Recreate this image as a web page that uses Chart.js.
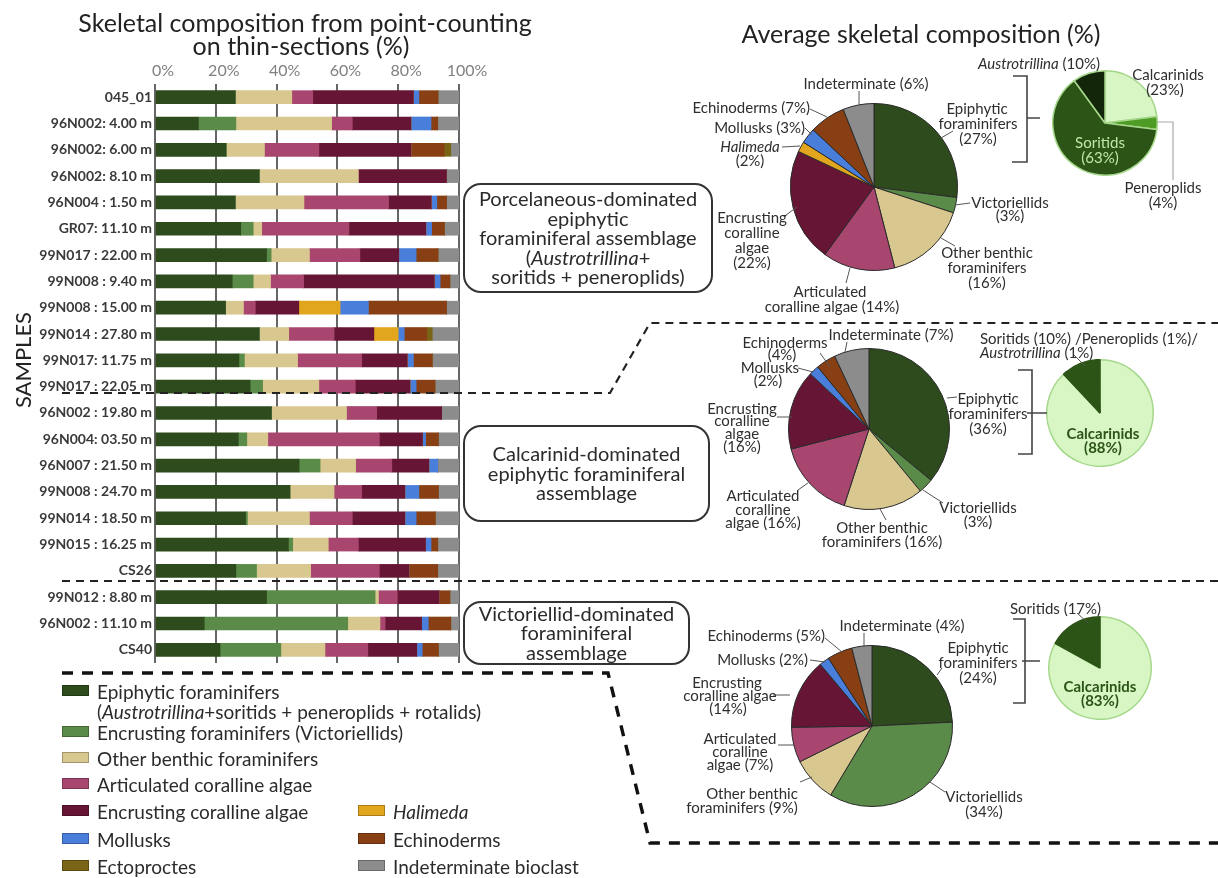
<!DOCTYPE html>
<html lang="en">
<head>
<meta charset="UTF-8">
<title>Skeletal composition</title>
<script src="https://cdn.jsdelivr.net/npm/chart.js"></script>
<style>
  body { margin: 0; background: #fff; font-family: Lato, sans-serif; color: #2b2b2b; }
  #stage { position: relative; width: 1218px; height: 878px; overflow: hidden; background: #fff; }
  #stage canvas { position: absolute; }
  .lbl { position: absolute; white-space: nowrap; font-size: 15px; line-height: 1; color: #2e2e2e; }
  .box { position: absolute; border: 2px solid #333; border-radius: 18px; box-sizing: border-box;
         display: flex; flex-direction: column; justify-content: center; align-items: center;
         text-align: center; font-size: 20px; line-height: 19.5px; color: #2b2b2b; }
  .sw { position: absolute; width: 27px; height: 11px; box-sizing: border-box; border: 1px solid rgba(0,0,0,0.25); }
  svg { position: absolute; left: 0; top: 0; }
</style>
</head>
<body>
<div id="stage">
  <canvas id="bars" width="500" height="680" style="left:0;top:0"></canvas>
  <canvas id="pie1" width="168" height="168" style="left:790px;top:103px"></canvas>
  <canvas id="pie2" width="162" height="162" style="left:788px;top:348px"></canvas>
  <canvas id="pie3" width="162" height="162" style="left:791px;top:645px"></canvas>
  <canvas id="epi1" width="106" height="106" style="left:1052px;top:70px"></canvas>
  <canvas id="epi2" width="108" height="108" style="left:1046px;top:359px"></canvas>
  <canvas id="epi3" width="104" height="104" style="left:1048px;top:616px"></canvas>
  <svg id="lines" width="1218" height="878"></svg>
</div>

<script>
  // samples, top to bottom
  const samples = ['045_01', '96N002: 4.00 m', '96N002: 6.00 m', '96N002: 8.10 m', '96N004 : 1.50 m',
    'GR07: 11.10 m', '99N017 : 22.00 m', '99N008 : 9.40 m', '99N008 : 15.00 m', '99N014 : 27.80 m',
    '99N017: 11.75 m', '99N017 : 22.05 m', '96N002 : 19.80 m', '96N004: 03.50 m', '96N007 : 21.50 m',
    '99N008 : 24.70 m', '99N014 : 18.50 m', '99N015 : 16.25 m', 'CS26', '99N012 : 8.80 m',
    '96N002 : 11.10 m', 'CS40'];

  const categories = ['Epiphytic foraminifers', 'Encrusting foraminifers (Victoriellids)', 'Other benthic foraminifers',
    'Articulated coralline algae', 'Encrusting coralline algae', 'Halimeda', 'Mollusks', 'Echinoderms',
    'Ectoproctes', 'Indeterminate bioclast'];
  const colors = ['#2d4b1c', '#5a8b48', '#d8c78f', '#a8466f', '#661634', '#e2a61e', '#4a7edb', '#883f13', '#7a6416', '#8c8c8c'];

  // point-counting percentages per sample
  const epiphytic = [26.4, 14.3, 23.4, 34.3, 26.4, 28.2, 36.7, 25.4, 23.2, 34.3, 27.6, 31.3, 38.3, 27.4, 47.4, 44.4, 29.8, 43.9, 26.6, 36.7, 16.2, 21.4];
  const encrustingForam = [0, 12.3, 0, 0, 0, 4.1, 1.5, 6.9, 0, 0, 1.8, 4.1, 0, 2.8, 6.9, 0, 0.6, 1.4, 6.8, 35.7, 47.2, 20.0];
  const otherBenthic = [18.6, 31.5, 12.6, 32.6, 22.6, 2.8, 12.6, 5.7, 5.9, 9.7, 17.5, 18.5, 24.7, 6.9, 11.7, 14.5, 20.4, 11.7, 17.8, 1.1, 10.6, 14.5];
  const articulated = [6.9, 6.8, 17.9, 0, 27.8, 28.7, 16.6, 10.9, 3.9, 14.9, 21.1, 12.0, 9.9, 36.7, 11.9, 9.1, 14.1, 9.9, 22.6, 6.2, 1.7, 14.1];
  const encrustingCoralline = [33.1, 19.3, 30.3, 29.0, 14.1, 25.3, 12.8, 43.0, 14.3, 13.1, 15.0, 18.0, 21.4, 14.2, 12.2, 14.2, 17.3, 22.1, 9.8, 13.8, 12.0, 16.1];
  const halimeda = [0, 0, 0, 0, 0, 0, 0, 0, 13.6, 8.0, 0, 0, 0, 0, 0, 0, 0, 0, 0, 0, 0, 0];
  const mollusks = [1.8, 6.6, 0, 0, 1.8, 1.9, 5.7, 1.9, 9.3, 2.0, 2.0, 2.0, 0, 1.0, 2.9, 4.6, 3.7, 1.8, 0, 0, 2.2, 1.8];
  const echinoderms = [6.3, 2.2, 10.9, 0, 3.2, 4.2, 7.2, 3.2, 25.7, 7.4, 6.2, 6.2, 0, 4.2, 0, 6.4, 6.3, 2.2, 9.4, 3.5, 7.4, 5.3];
  const ectoproctes = [0, 0, 2.2, 0, 0, 0, 0, 0, 0, 1.8, 0, 0, 0, 0, 0, 0, 0, 0, 0, 0, 0, 0];
  const indeterminate = [6.9, 7.0, 2.7, 4.1, 4.1, 4.8, 6.9, 3.0, 4.1, 8.8, 8.8, 7.9, 5.7, 6.8, 7.0, 6.8, 7.8, 7.0, 7.0, 3.0, 2.7, 6.8];
  const xTicks = [0, 20, 40, 60, 80, 100];

  // average composition per assemblage (clockwise from 12 o'clock)
  const pieCats = ['Epiphytic foraminifers', 'Victoriellids', 'Other benthic foraminifers', 'Articulated coralline algae',
    'Encrusting coralline algae', 'Halimeda', 'Mollusks', 'Echinoderms', 'Indeterminate'];
  const pieColors = ['#2d4b1c', '#5a8b48', '#d8c78f', '#a8466f', '#661634', '#e2a61e', '#4a7edb', '#883f13', '#8c8c8c'];
  const porcelaneousAvg = [27, 3, 16, 14, 22, 2, 3, 7, 6];
  const calcarinidAvg = [36, 3, 16, 16, 16, 0, 2, 4, 7];
  const victoriellidAvg = [24, 34, 9, 7, 14, 0, 2, 5, 4];

  // split of the epiphytic foraminifers
  const epiCats = ['Calcarinids', 'Peneroplids', 'Soritids', 'Austrotrillina'];
  const porcelaneousEpi = [23, 4, 63, 10];
  const calcarinidEpi = [88, 1, 10, 1];
  const victoriellidEpi = [83, 0, 17, 0];

  Chart.defaults.font.family = 'Lato';
  Chart.defaults.animation = false;

  const barSeries = [epiphytic, encrustingForam, otherBenthic, articulated, encrustingCoralline,
    halimeda, mollusks, echinoderms, ectoproctes, indeterminate];

  new Chart(document.getElementById('bars'), {
    type: 'bar',
    data: {
      labels: samples,
      datasets: barSeries.map((d, i) => ({
        label: categories[i], data: d, backgroundColor: colors[i], borderWidth: 0,
        barThickness: 13
      }))
    },
    options: {
      responsive: false,
      indexAxis: 'y',
      layout: { padding: { left: 0, right: 41, top: 0, bottom: 17 } },
      plugins: { legend: { display: false }, tooltip: { enabled: false } },
      scales: {
        x: {
          position: 'top', stacked: true, min: 0, max: 100,
          afterBuildTicks: s => { s.ticks = xTicks.map(v => ({ value: v })); },
          afterFit: s => { s.height = 84; s.paddingLeft = 0; s.paddingRight = 0; },
          grid: { color: '#666', lineWidth: 2, drawTicks: false },
          border: { display: false },
          ticks: { callback: v => v + '%', color: '#808080', font: { size: 16 }, padding: 4, labelOffset: 8 }
        },
        y: {
          stacked: true,
          afterFit: s => { s.width = 155; s.paddingTop = 0; s.paddingBottom = 0; },
          grid: { display: false, drawTicks: false },
          border: { display: false },
          ticks: { color: '#3a3a3a', font: { size: 14, weight: 'bold' }, padding: 3 }
        }
      }
    }
  });

  function pie(id, values, cols, border, bw) {
    new Chart(document.getElementById(id), {
      type: 'pie',
      data: { labels: values.map((_, i) => i), datasets: [{ data: values, backgroundColor: cols, borderColor: border, borderWidth: bw }] },
      options: { responsive: false, layout: { padding: 0 }, plugins: { legend: { display: false }, tooltip: { enabled: false } } }
    });
  }
  pie('pie1', porcelaneousAvg, pieColors, '#2a2a2a', 1);
  pie('pie2', calcarinidAvg, pieColors, '#2a2a2a', 1);
  pie('pie3', victoriellidAvg, pieColors, '#2a2a2a', 1);
  const epiColors = ['#d7f6c4', '#4e9c25', '#2c5417', '#14260a'];
  const darkEpi = ['#d7f6c4', '#2c5417', '#2c5417', '#2c5417'];
  pie('epi1', porcelaneousEpi, epiColors, '#a6d88c', 1.5);
  pie('epi2', calcarinidEpi, darkEpi, ['#a6d88c', '#2c5417', '#2c5417', '#2c5417'], 1.5);
  pie('epi3', victoriellidEpi, darkEpi, ['#a6d88c', '#2c5417', '#2c5417', '#2c5417'], 1.5);

  // ---- annotations ----
  const stage = document.getElementById('stage');
  function txt(html, x, y, align, extra) {
    const d = document.createElement('div');
    d.className = 'lbl';
    d.innerHTML = html;
    d.style.left = x + 'px';
    d.style.top = y + 'px';
    const a = align || 'center';
    d.style.transform = a === 'center' ? 'translate(-50%,-50%)' : a === 'right' ? 'translate(-100%,-50%)' : 'translate(0,-50%)';
    if (extra) Object.assign(d.style, extra);
    stage.appendChild(d);
    return d;
  }
  function box(lines, l, t, w, h) {
    const d = document.createElement('div');
    d.className = 'box';
    Object.assign(d.style, { left: l + 'px', top: t + 'px', width: w + 'px', height: h + 'px' });
    d.innerHTML = lines.map(s => '<div>' + s + '</div>').join('');
    stage.appendChild(d);
  }

  const big = { fontSize: '25px', color: '#222' };
  txt('Skeletal composition from point-counting', 305, 22, 'center', big);
  txt('on thin-sections (%)', 301, 45, 'center', big);
  txt('Average skeletal composition (%)', 921, 33, 'center', big);
  txt('SAMPLES', 23, 360, 'center', { fontSize: '22px', color: '#222', transform: 'translate(-50%,-50%) rotate(-90deg)' });

  box(['Porcelaneous-dominated', 'epiphytic', 'foraminiferal assemblage', '(<i>Austrotrillina</i>+', 'soritids + peneroplids)'], 463, 183, 250, 110);
  box(['Calcarinid-dominated', 'epiphytic foraminiferal', 'assemblage'], 463, 425, 247, 97);
  box(['Victoriellid-dominated', 'foraminiferal', 'assemblage'], 463, 601, 227, 64);

  // legend
  const legendPos = [[62, 691], [62, 732], [62, 758], [62, 784], [62, 811], [358, 811], [62, 839], [358, 839], [62, 866], [358, 866]];
  const legendFont = { fontSize: '19px', color: '#2b2b2b' };
  categories.forEach((c, i) => {
    const [x, y] = legendPos[i];
    const s = document.createElement('div');
    s.className = 'sw';
    Object.assign(s.style, { left: x + 'px', top: (y - 6) + 'px', background: colors[i] });
    stage.appendChild(s);
    const name = c === 'Halimeda' ? '<i>Halimeda</i>' : c;
    txt(name, x + 35, y, 'left', legendFont);
  });
  txt('(<i>Austrotrillina</i>+soritids + peneroplids + rotalids)', 97, 711, 'left', legendFont);

  // pie 1 labels
  txt('Indeterminate (6%)', 866, 83);
  txt('Echinoderms (7%)', 810, 107, 'right');
  txt('Mollusks (3%)', 805, 127, 'right');
  txt('<i>Halimeda</i>', 750, 146); txt('(2%)', 750, 160);
  txt('Encrusting', 752, 217); txt('coralline', 752, 232); txt('algae', 752, 247); txt('(22%)', 752, 262);
  txt('Articulated', 830, 291); txt('coralline algae (14%)', 832, 306);
  txt('Other benthic', 987, 252); txt('foraminifers', 987, 267); txt('(16%)', 987, 282);
  txt('Victoriellids', 1010, 202); txt('(3%)', 1010, 215);
  txt('Epiphytic', 977, 108); txt('foraminifers', 978, 123); txt('(27%)', 978, 138);
  txt('<i>Austrotrillina</i> (10%)', 978, 63, 'left');
  txt('Calcarinids', 1168, 74); txt('(23%)', 1165, 89);
  txt('Soritids', 1100, 142, 'center', { color: '#bfe8a6' }); txt('(63%)', 1100, 157, 'center', { color: '#bfe8a6' });
  txt('Peneroplids', 1163, 187); txt('(4%)', 1163, 202);

  // pie 2 labels
  txt('Indeterminate (7%)', 891, 334);
  txt('Echinoderms', 785, 342); txt('(4%)', 782, 354);
  txt('Mollusks', 770, 367); txt('(2%)', 768, 380);
  txt('Encrusting', 742, 408); txt('coralline', 742, 420); txt('algae', 742, 433); txt('(16%)', 742, 446);
  txt('Articulated', 763, 495); txt('coralline', 763, 509); txt('algae (16%)', 763, 522);
  txt('Other benthic', 882, 527); txt('foraminifers (16%)', 882, 541);
  txt('Victoriellids', 978, 507); txt('(3%)', 978, 521);
  txt('Epiphytic', 988, 398); txt('foraminifers', 988, 413); txt('(36%)', 988, 428);
  txt('Soritids (10%) /Peneroplids (1%)/', 980, 338, 'left');
  txt('<i>Austrotrillina</i> (1%)', 980, 352, 'left');
  const dk = { color: '#2c5417', fontWeight: 'bold' };
  txt('Calcarinids', 1103, 433, 'center', dk); txt('(88%)', 1103, 447, 'center', dk);

  // pie 3 labels
  txt('Indeterminate (4%)', 902, 625);
  txt('Echinoderms (5%)', 825, 635, 'right');
  txt('Mollusks (2%)', 808, 659, 'right');
  txt('Encrusting', 727, 682); txt('coralline algae', 730, 695); txt('(14%)', 728, 708);
  txt('Articulated', 740, 738); txt('coralline', 740, 751); txt('algae (7%)', 740, 764);
  txt('Other benthic', 752, 793); txt('foraminifers (9%)', 742, 807);
  txt('Victoriellids', 984, 796); txt('(34%)', 984, 811);
  txt('Epiphytic', 978, 647); txt('foraminifers', 978, 662); txt('(24%)', 978, 677);
  txt('Soritids (17%)', 1010, 608, 'left');
  txt('Calcarinids', 1100, 686, 'center', dk); txt('(83%)', 1100, 700, 'center', dk);

  // lines: dashed separators, brackets and leaders
  const svg = document.getElementById('lines');
  function path(d, w, color, dash) {
    const p = document.createElementNS('http://www.w3.org/2000/svg', 'path');
    p.setAttribute('d', d);
    p.setAttribute('fill', 'none');
    p.setAttribute('stroke', color);
    p.setAttribute('stroke-width', w);
    if (dash) p.setAttribute('stroke-dasharray', dash);
    svg.appendChild(p);
  }
  path('M62 393 H610 L650 323 H1218', 2.2, '#222', '8 6');
  path('M62 581 H1218', 2.2, '#222', '8 6');
  path('M62 673 H608 L650 843 H1218', 3.4, '#111', '11 9');

  // brackets
  path('M1013 76 H1027 V162 H1012 M1027 118 H1040', 1.6, '#444');
  path('M1018 370 H1032 V454 H1018 M1027 413 H1047', 1.6, '#444');
  path('M1013 619 H1025 V703 H1013 M1022 661 H1040', 1.6, '#444');

  // leaders
  const leaders = [
    'M859 91 V105', 'M810 109 L827 117', 'M805 128 L812 135', 'M782 147 L800 146',
    'M941 138 L953 131', 'M955 205 L970 203', 'M786 215 L797 207', 'M846 283 L850 268', 'M955 246 L941 238',
    'M847 342 L845 352', 'M820 353 L830 367', 'M798 368 L813 372', 'M777 417 L792 417', 'M798 490 L808 483',
    'M880 509 L886 520', 'M923 490 L943 503', 'M947 398 L957 397', 'M1073 354 L1085 366',
    'M864 633 V647', 'M825 638 L842 652', 'M810 660 L825 662', 'M773 695 L790 695', 'M778 745 L795 745',
    'M800 782 L812 777', 'M930 782 L945 792', 'M937 675 L942 668', 'M1077 613 L1088 623'
  ];
  leaders.forEach(d => path(d, 1, '#555'));
  path('M1157 122 H1173 V180', 1.2, '#aaa');
</script>
</body>
</html>
